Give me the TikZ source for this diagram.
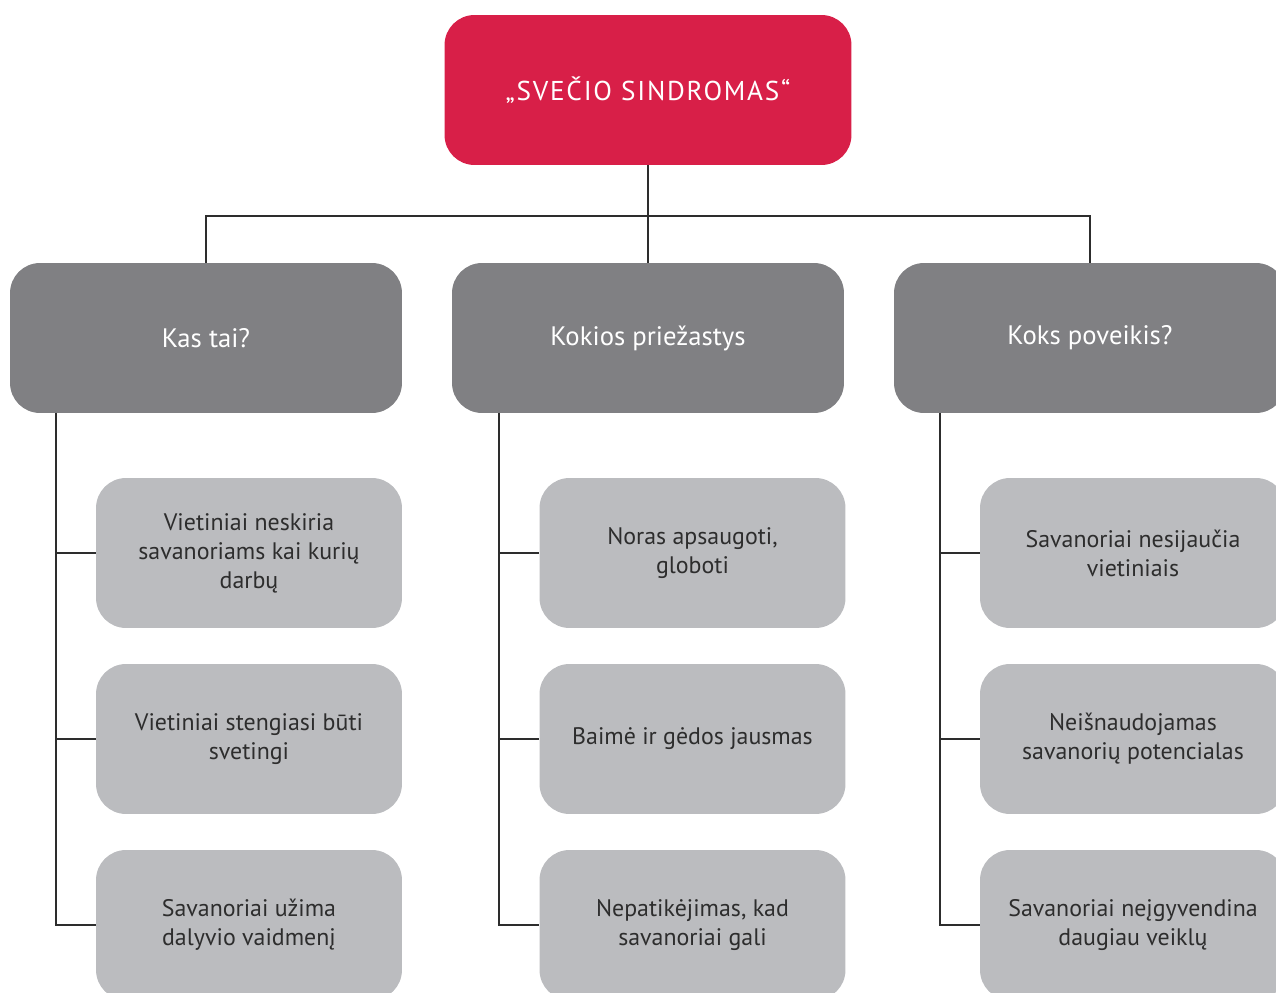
\documentclass[tikz,border=0pt]{standalone}
\usepackage{fontspec}
\setmainfont{PT Sans}
\usetikzlibrary{positioning}

\definecolor{svred}{RGB}{216,31,72}
\definecolor{svdark}{RGB}{128,128,131}
\definecolor{svlight}{RGB}{187,188,191}
\definecolor{svtext}{RGB}{45,45,45}

\tikzset{
  titlebox/.style={fill=svred, rounded corners=0.6cm, minimum width=8.14cm,
    minimum height=3cm, text=white, font=\fontsize{15.5}{19}\selectfont\addfontfeature{LetterSpace=6.5}},
  headbox/.style={fill=svdark, rounded corners=0.6cm, minimum width=7.84cm,
    minimum height=3cm, text=white, font=\fontsize{15.2}{18}\selectfont},
  itembox/.style={fill=svlight, rounded corners=0.6cm, minimum width=6.12cm,
    minimum height=3cm, text=svtext, align=center, font=\fontsize{13.6}{16.5}\selectfont},
  link/.style={draw=svtext, line width=0.6pt}
}

\begin{document}
\begin{tikzpicture}[x=0.02cm, y=-0.02cm]
  \useasboundingbox (0,0) rectangle (1276,993);
  \clip (0,0) rectangle (1276,993);

  \node[titlebox] (syndrome) at (648,90) {„SVEČIO SINDROMAS“};

  \node[headbox] (what) at (206,338) {Kas tai?};
  \node[headbox] (why) at (648,338) {Kokios priežastys};
  \node[headbox] (effect) at (1090,338) {Koks poveikis?};

  % Kas tai?
  \node[itembox] (what1) at (249,553) {Vietiniai neskiria\\savanoriams kai kurių\\darbų};
  \node[itembox] (what2) at (249,739) {Vietiniai stengiasi būti\\svetingi};
  \node[itembox] (what3) at (249,925) {Savanoriai užima\\dalyvio vaidmenį};

  % Kokios priežastys
  \node[itembox] (why1) at (692.5,553) {Noras apsaugoti,\\globoti};
  \node[itembox] (why2) at (692.5,739) {Baimė ir gėdos jausmas};
  \node[itembox] (why3) at (692.5,925) {Nepatikėjimas, kad\\savanoriai gali};

  % Koks poveikis?
  \node[itembox] (effect1) at (1133,553) {Savanoriai nesijaučia\\vietiniais};
  \node[itembox] (effect2) at (1133,739) {Neišnaudojamas\\savanorių potencialas};
  \node[itembox] (effect3) at (1133,925) {Savanoriai neįgyvendina\\daugiau veiklų};

  \coordinate (bus) at (648,216);
  \draw[link] (syndrome.south) -- (bus);
  \draw[link] (what.north) |- (bus) -| (effect.north);
  \draw[link] (bus) -- (why.north);

  \coordinate (whattrunk) at (56,413);
  \coordinate (whytrunk) at (499,413);
  \coordinate (effecttrunk) at (940,413);
  \foreach \col in {what, why, effect} {
    \draw[link] (\col trunk) |- (\col 3.west);
    \draw[link] (\col trunk |- \col 1.west) -- (\col 1.west);
    \draw[link] (\col trunk |- \col 2.west) -- (\col 2.west);
  }
\end{tikzpicture}
\end{document}
